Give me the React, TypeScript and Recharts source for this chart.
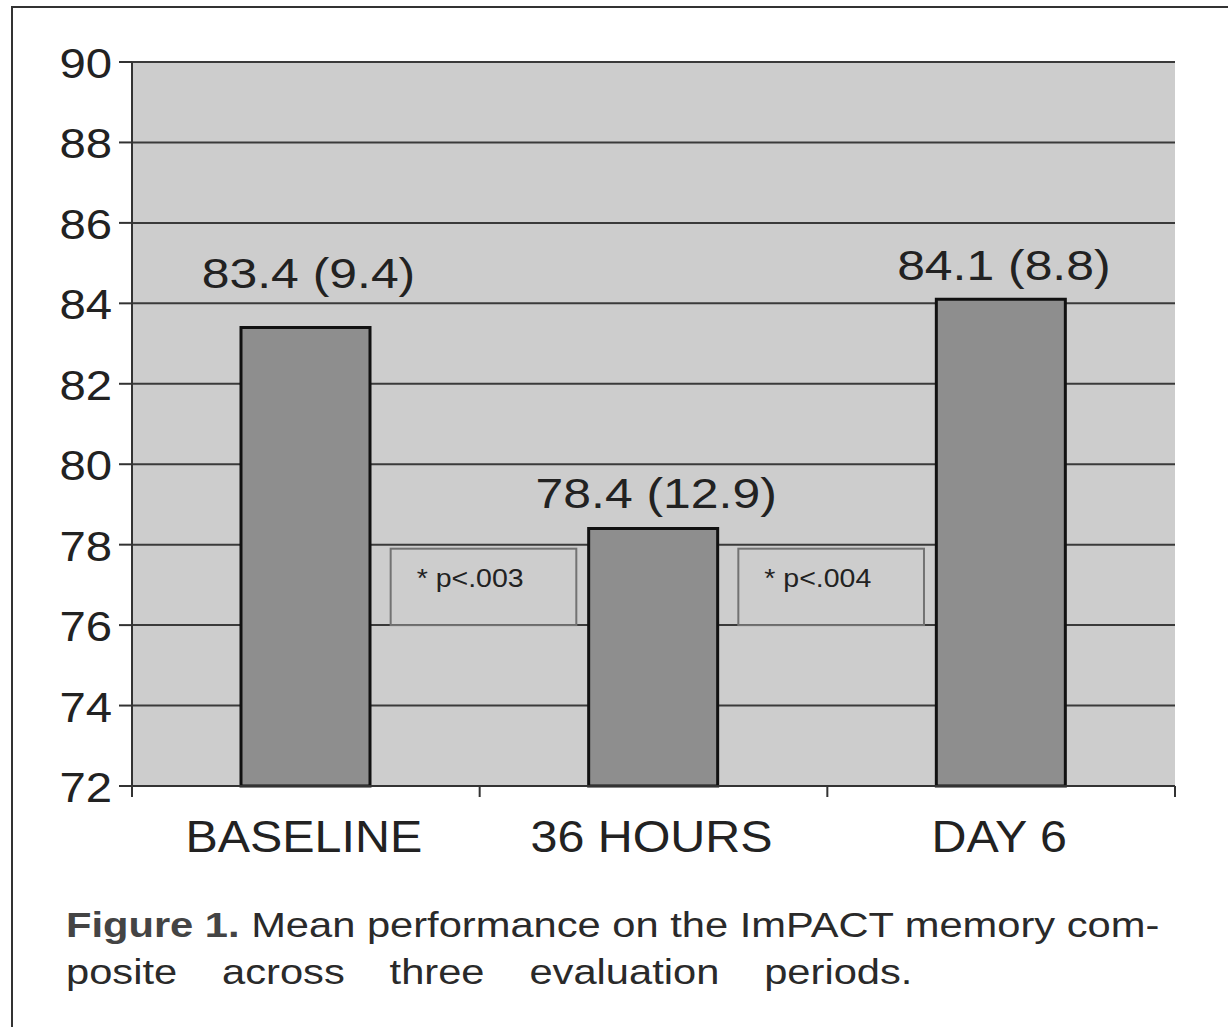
import { BarChart, Bar, CartesianGrid, XAxis, YAxis, LabelList, ReferenceArea } from "recharts";

const periods = ["BASELINE", "36 HOURS", "DAY 6"];
const means = [83.4, 78.4, 84.1];
const sds = [9.4, 12.9, 8.8];
const yTicks = [72, 74, 76, 78, 80, 82, 84, 86, 88, 90];
const pNotes = ["* p<.003", "* p<.004"];
const pBoxRange = [76, 77.9];

const data = periods.map((period, i) => ({ period, mean: means[i], sd: sds[i] }));

// layout
const W = 1228;
const H = 900;
const M = { top: 62, right: 53, left: 0, bottom: 34 };
const Y_W = 132;
const X_H = 80;
const BAND = (W - M.left - Y_W - M.right) / periods.length;
const SX = 1.1; // the scan is stretched a bit horizontally
const FONT = '"Liberation Sans", Arial, Helvetica, sans-serif';
const INK = "#222";
const LINE = "#333";
const labelLift = [39, 21, 19];

function YTick({ x, y, payload }: any) {
  return (
    <text
      transform={`translate(${x},${y + 16}) scale(${SX},1)`}
      textAnchor="end"
      fontFamily={FONT}
      fontSize={43}
      fill={INK}
    >
      {payload.value}
    </text>
  );
}

function XTick({ x, y, payload, index }: any) {
  const left = x - BAND / 2;
  const right = x + BAND / 2;
  return (
    <g>
      <line x1={left} x2={left} y1={y} y2={y + 11} stroke={LINE} strokeWidth={2} />
      {index === periods.length - 1 && (
        <line x1={right} x2={right} y1={y} y2={y + 11} stroke={LINE} strokeWidth={2} />
      )}
      <text
        transform={`translate(${x - 2},${y + 66}) scale(${SX},1)`}
        textAnchor="middle"
        fontFamily={FONT}
        fontSize={44}
        fill={INK}
      >
        {payload.value}
      </text>
    </g>
  );
}

function ValueLabel({ x, y, width, index }: any) {
  return (
    <text
      transform={`translate(${x + width / 2 + 3},${y - labelLift[index]}) scale(1.16,1)`}
      textAnchor="middle"
      fontFamily={FONT}
      fontSize={43}
      fill={INK}
    >
      {`${means[index]} (${sds[index]})`}
    </text>
  );
}

function PBox({ x, y, width, height, note }: any) {
  const bx = x + width * 0.372;
  const bw = width * 0.267;
  return (
    <g>
      <rect x={bx} y={y} width={bw} height={height} fill="none" stroke="#727272" strokeWidth={2} />
      <text
        transform={`translate(${bx + 26},${y + 38}) scale(1.14,1)`}
        fontFamily={FONT}
        fontSize={25}
        fill={INK}
      >
        {note}
      </text>
    </g>
  );
}

export default function App() {
  return (
    <div style={{ position: "absolute", left: 0, top: 0, width: W, height: 1027, background: "#fff", overflow: "hidden" }}>
      <div
        style={{
          position: "absolute",
          left: 11,
          top: 6,
          right: -4,
          bottom: -4,
          borderTop: `2px solid ${LINE}`,
          borderLeft: `2px solid ${LINE}`,
        }}
      />
      <div style={{ position: "absolute", left: 0, top: 0 }}>
        <BarChart width={W} height={H} data={data} margin={M} barSize={129}>
          <CartesianGrid vertical={false} stroke="#3a3a3a" strokeWidth={2} fill="#cdcdcd" fillOpacity={1} />
          <XAxis
            dataKey="period"
            height={X_H}
            interval={0}
            tickLine={false}
            tickSize={0}
            tickMargin={0}
            axisLine={{ stroke: LINE, strokeWidth: 2 }}
            tick={<XTick />}
          />
          <YAxis
            width={Y_W}
            domain={[72, 90]}
            ticks={yTicks}
            interval={0}
            tickSize={13}
            tickMargin={7}
            tickLine={{ stroke: LINE, strokeWidth: 2 }}
            axisLine={{ stroke: LINE, strokeWidth: 2 }}
            tick={<YTick />}
          />
          <YAxis
            yAxisId="frame"
            orientation="right"
            width={0}
            tick={false}
            tickLine={false}
            axisLine={{ stroke: LINE, strokeWidth: 2 }}
          />
          <Bar dataKey="mean" fill="#8e8e8e" stroke="#111" strokeWidth={3} isAnimationActive={false}>
            <LabelList dataKey="mean" content={<ValueLabel />} />
          </Bar>
          {pNotes.map((note, i) => (
            <ReferenceArea
              key={note}
              x1={periods[i]}
              x2={periods[i + 1]}
              y1={pBoxRange[0]}
              y2={pBoxRange[1]}
              shape={(p: any) => <PBox {...p} note={note} />}
            />
          ))}
        </BarChart>
      </div>
      <div
        style={{
          position: "absolute",
          left: 66,
          top: 901,
          fontFamily: FONT,
          fontSize: 35,
          lineHeight: "47px",
          color: "#2a2a2a",
          whiteSpace: "nowrap",
          transform: "scaleX(1.19)",
          transformOrigin: "left top",
        }}
      >
        <div>
          <b style={{ color: "#444" }}>Figure 1.</b> Mean performance on the ImPACT memory com-
        </div>
        <div style={{ wordSpacing: 28 }}>posite across three evaluation periods.</div>
      </div>
    </div>
  );
}
